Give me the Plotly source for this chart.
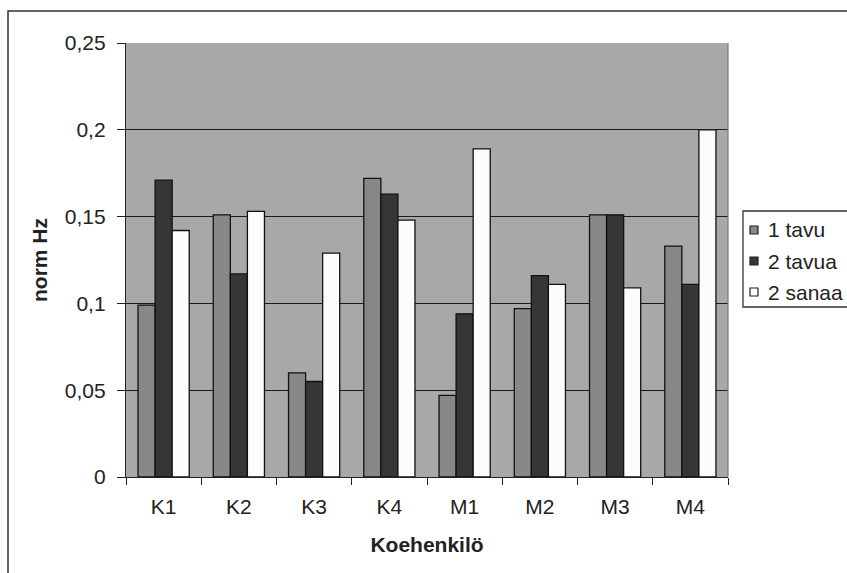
import plotly.graph_objects as go

# Subjects and normalised frequency values per condition
subjects = ["K1", "K2", "K3", "K4", "M1", "M2", "M3", "M4"]
one_syllable = [0.099, 0.151, 0.060, 0.172, 0.047, 0.097, 0.151, 0.133]
two_syllables = [0.171, 0.117, 0.055, 0.163, 0.094, 0.116, 0.151, 0.111]
two_words = [0.142, 0.153, 0.129, 0.148, 0.189, 0.111, 0.109, 0.200]
series_names = ["1 tavu", "2 tavua", "2 sanaa"]
y_tick_values = [0, 0.05, 0.1, 0.15, 0.2, 0.25]
y_tick_labels = ["0", "0,05", "0,1", "0,15", "0,2", "0,25"]

W, H = 847, 573
ML, MR, MT, MB = 126, 119, 43, 96
PW, PH = W - ML - MR, H - MT - MB

FONT = "Arial, Liberation Sans, sans-serif"
fills = ["#888888", "#363636", "#fcfcfc"]


def px_x(px):
    return (px - ML) / PW


def px_y(py):
    return (H - MB - py) / PH


fig = go.Figure()
for name, vals, col in zip(series_names, [one_syllable, two_syllables, two_words], fills):
    fig.add_trace(go.Bar(
        x=subjects, y=vals, name=name,
        marker=dict(color=col, line=dict(color="#111111", width=1.3)),
        showlegend=False,
    ))

shapes = []
# outer chart frame
shapes.append(dict(type="rect", xref="paper", yref="paper",
                   x0=px_x(8), x1=px_x(852), y0=px_y(578), y1=px_y(11),
                   line=dict(color="#333333", width=1.5), fillcolor="rgba(0,0,0,0)"))
# plot area edge on the right
shapes.append(dict(type="line", xref="paper", yref="paper",
                   x0=1, x1=1, y0=0, y1=1, line=dict(color="#7a7a7a", width=1.2)))
# legend box
shapes.append(dict(type="rect", xref="paper", yref="paper",
                   x0=px_x(743), x1=px_x(855), y0=px_y(307), y1=px_y(211),
                   line=dict(color="#333333", width=1.3), fillcolor="white"))

annotations = []
row_y = [230, 261, 292]
for name, col, cy in zip(series_names, fills, row_y):
    shapes.append(dict(type="rect", xref="paper", yref="paper",
                       x0=px_x(750), x1=px_x(758), y0=px_y(cy + 4), y1=px_y(cy - 4),
                       line=dict(color="#222222", width=1.2), fillcolor=col))
    annotations.append(dict(text=name, xref="paper", yref="paper",
                            x=px_x(766), y=px_y(cy), xanchor="left", yanchor="middle",
                            showarrow=False, font=dict(family=FONT, size=21, color="#222222")))

fig.update_layout(
    width=W, height=H,
    margin=dict(l=ML, r=MR, t=MT, b=MB),
    paper_bgcolor="white", plot_bgcolor="#a8a8a8",
    barmode="group", bargap=0.32, bargroupgap=0,
    font=dict(family=FONT, size=21, color="#222222"),
    shapes=shapes, annotations=annotations,
    xaxis=dict(
        showline=True, linecolor="#222222", linewidth=1.3,
        ticks="outside", tickson="boundaries", ticklen=7, tickwidth=1.3, tickcolor="#222222",
        showgrid=False, ticklabelstandoff=11,
        title=dict(text="Koehenkilö", font=dict(family=FONT, size=21, weight="bold"), standoff=19),
    ),
    yaxis=dict(
        range=[0, 0.25], tickvals=y_tick_values, ticktext=y_tick_labels,
        showline=True, linecolor="#222222", linewidth=1.3,
        ticks="outside", ticklen=8, tickwidth=1.3, tickcolor="#222222",
        showgrid=True, gridcolor="#1a1a1a", gridwidth=1.4, zeroline=False,
        ticklabelstandoff=7,
        title=dict(text="norm Hz", font=dict(family=FONT, size=21, weight="bold"), standoff=11),
    ),
)

fig.write_html("out.html")
